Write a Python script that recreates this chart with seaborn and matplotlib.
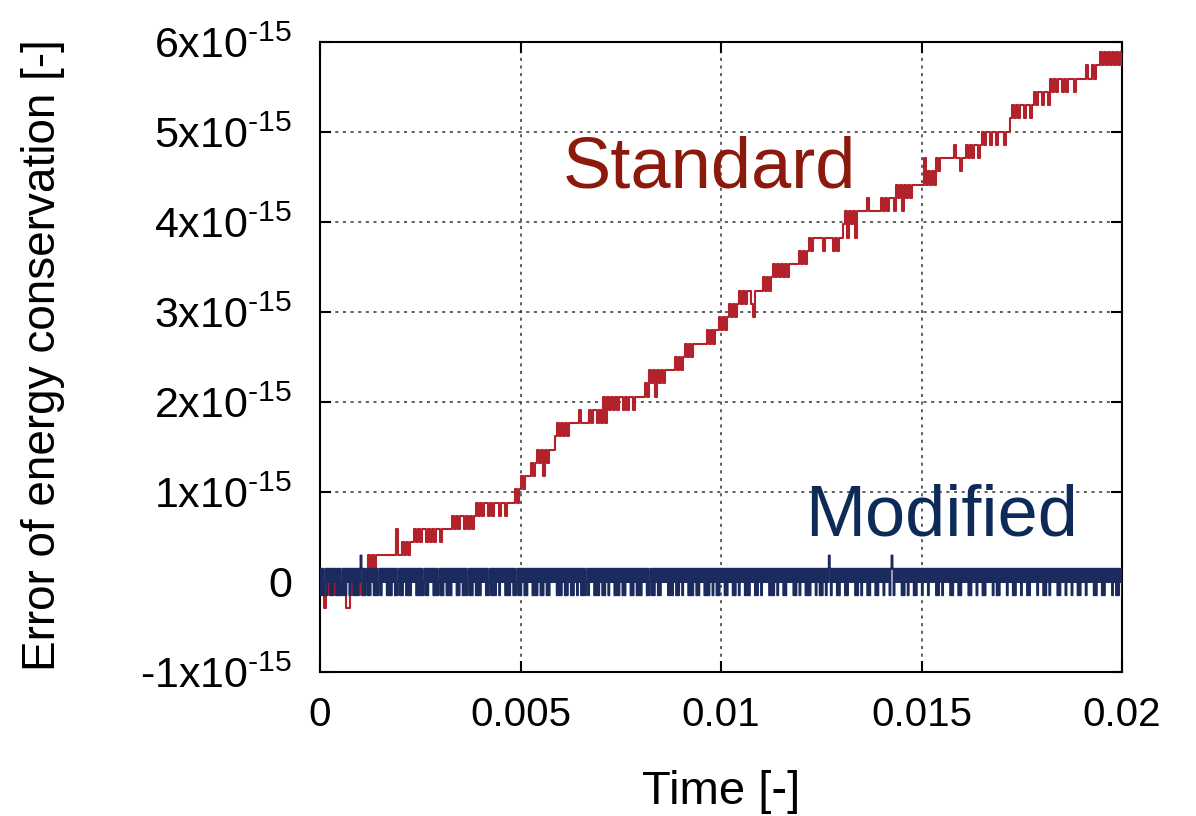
import numpy as np
import pandas as pd
import matplotlib
matplotlib.use("Agg")
import matplotlib.pyplot as plt
import seaborn as sns

# ---------------- data ----------------
T_START, T_END = 0.0, 0.02
ROUNDOFF_UNIT = 1.472e-16          # size of one round-off step in the error

# Standard scheme: error level (in round-off units) sampled every 5e-5 s
STANDARD_LEVELS = [
    0, 0, -2, -1, 0, -1, 0, -1, 0, -1,
    0, -1, 0, -2, -2, -1, 0, -1, 0, -1,
    0, -1, 0, 1, 2, 1, 2, 1, 2, 2,
    2, 2, 2, 2, 2, 2, 2, 2, 4, 2,
    2, 3, 2, 3, 2, 3, 3, 4, 3, 4,
    3, 4, 4, 3, 4, 3, 4, 3, 4, 4,
    3, 4, 4, 4, 4, 4, 5, 4, 5, 4,
    5, 5, 4, 5, 4, 5, 4, 5, 6, 5,
    6, 5, 6, 6, 5, 6, 5, 6, 6, 5,
    6, 6, 5, 6, 6, 6, 6, 7, 6, 7,
    8, 7, 8, 8, 8, 9, 8, 9, 10, 9,
    10, 8, 10, 9, 10, 10, 10, 11, 12, 11,
    12, 11, 12, 11, 12, 12, 12, 12, 12, 13,
    12, 12, 12, 12, 13, 12, 13, 13, 12, 13,
    12, 14, 12, 14, 13, 14, 13, 14, 13, 14,
    14, 13, 14, 13, 14, 14, 13, 14, 14, 14,
    14, 14, 15, 14, 16, 15, 16, 14, 16, 15,
    16, 15, 16, 16, 16, 16, 16, 17, 16, 17,
    16, 17, 18, 17, 18, 17, 18, 18, 18, 18,
    18, 18, 18, 19, 18, 19, 18, 19, 19, 20,
    19, 20, 19, 20, 21, 20, 21, 20, 21, 22,
    21, 22, 21, 22, 22, 21, 20, 22, 22, 22,
    22, 23, 22, 23, 22, 23, 24, 23, 24, 23,
    24, 23, 24, 23, 24, 24, 24, 24, 24, 25,
    24, 25, 24, 25, 26, 25, 26, 26, 26, 26,
    26, 25, 26, 26, 26, 26, 25, 26, 25, 26,
    26, 27, 28, 26, 28, 27, 28, 26, 28, 28,
    28, 28, 28, 29, 28, 28, 28, 28, 28, 28,
    29, 28, 29, 28, 29, 29, 28, 30, 29, 30,
    28, 30, 29, 30, 29, 30, 30, 30, 30, 30,
    30, 32, 30, 31, 30, 31, 30, 32, 31, 32,
    32, 32, 32, 32, 32, 32, 33, 32, 32, 31,
    32, 32, 33, 32, 33, 32, 33, 33, 32, 33,
    34, 33, 34, 34, 33, 34, 34, 33, 34, 34,
    34, 33, 34, 34, 35, 36, 35, 36, 35, 36,
    36, 35, 36, 36, 35, 36, 37, 36, 37, 37,
    36, 37, 37, 36, 38, 37, 38, 37, 38, 38,
    37, 38, 37, 38, 38, 38, 37, 38, 38, 38,
    38, 38, 39, 38, 38, 39, 38, 39, 39, 40,
    39, 40, 39, 40, 39, 40, 39, 40, 39, 40,
    39,
]

# Modified scheme: error level sampled every 2.5e-5 s
# '+' = +1 unit, '0' = 0, '-' = -1 unit, '^' = +2 units
MODIFIED_TRACE = (
    "+-+-0+-+0+-+-+0+-+-+-0+-+-+0+-+0+-+-+-+0^+-+-0+-+-"
    "+0+-+-+-0+-+0+0+-+-+-+0+-+-0+-+-+0+-+-+-+0+0+-+-+-"
    "+-0+-+-+0+0+-+-+-0+-+-+0+-+-+-+0+0+-+-+0+-+-+-0+-+"
    "-+0+-+-+-+0+0+-+-0+-+-+-+0+-+0+0+-+-+-+0+-+-0+-+-+"
    "0+-+-+0+0+-+-+-+0+-+-+0+-+-+0+0+0+-+-+-+0+-+-+0+-+"
    "-+0+-+0+-+-+-0+-+0+0+-+-+-+0+-+-+0+-+0+0+-+-+-+0+-"
    "+-+0+0+-+-+0+-+-+-+0+0+-+-0+-+-+0+-+-+0+0+0+-+-+-+"
    "0+-+-+0+-+0+0+-+-+-+0+-+-+0+0+-+-+-+0+-+0+-+-+0+0+"
    "-+-+0+0+-+-+0+-+0+0+-+-+-+0+0+-+-+0+-+0+0+0+-+-+-"
    "+0+-+0+0+-+-+0+0+0+-+-+0+-+0+0+-+-+-+0+0+-+0+-+-+"
    "0+-+0^+-+0+0+-+-+0+0+-+-+0+0+0+-+-+0+-+0+0+-+-+0+"
    "0+-+-+0+0+-+0+0+-+^+-+0+0+0+-+-+0+-+0+0+-+-+0+0+-"
    "+0+0+-+0+0+0+-+-+0+-+0+0+0+-+-+0+0+-+-+0+0+0+-+-+"
    "0+0+-+0+0+-+-+0+0+0+-+0+-+-+0+0+0+-+0+0+-+-+0+0+-"
    "+0+0+-+-+0+0+0+-+0+0+-+-+0+-+0+0+0+-+-+0+0+-+0+0+"
    "-+0+0+-+-+0+0+-+0+0+0+-+-+0+0+-+-+0+0+0+-+0+-+-+0+-"
)
MODIFIED_CODE = {"-": -1, "0": 0, "+": 1, "^": 2}

X_TICKS = [0.0, 0.005, 0.01, 0.015, 0.02]
X_TICK_LABELS = ["0", "0.005", "0.01", "0.015", "0.02"]
Y_TICKS = [-1e-15, 0.0, 1e-15, 2e-15, 3e-15, 4e-15, 5e-15, 6e-15]
Y_TICK_LABELS = [r"-1x10$^{\text{-15}}$", "0",
                 r"1x10$^{\text{-15}}$", r"2x10$^{\text{-15}}$",
                 r"3x10$^{\text{-15}}$", r"4x10$^{\text{-15}}$",
                 r"5x10$^{\text{-15}}$", r"6x10$^{\text{-15}}$"]

SERIES_NAMES = ["Standard", "Modified"]

# ---------------- build tables ----------------
std_t = np.linspace(T_START, T_END, len(STANDARD_LEVELS))
std = pd.DataFrame({"time": std_t,
                    "error": np.array(STANDARD_LEVELS) * ROUNDOFF_UNIT})
mod_levels = [MODIFIED_CODE[c] for c in MODIFIED_TRACE]
mod_t = np.linspace(T_START, T_END, len(mod_levels))
mod = pd.DataFrame({"time": mod_t,
                    "error": np.array(mod_levels) * ROUNDOFF_UNIT})

# ---------------- style ----------------
sns.set_style("ticks")
plt.rcParams["font.family"] = ["Liberation Sans", "DejaVu Sans"]
plt.rcParams["mathtext.fontset"] = "custom"
plt.rcParams["mathtext.rm"] = "Liberation Sans"
plt.rcParams["mathtext.it"] = "Liberation Sans"
plt.rcParams["mathtext.bf"] = "Liberation Sans"
plt.rcParams["mathtext.default"] = "regular"
plt.rcParams["text.color"] = "black"
plt.rcParams["axes.labelcolor"] = "black"
plt.rcParams["xtick.color"] = "black"
plt.rcParams["ytick.color"] = "black"

RED_LINE = "#b3222a"
BLUE_LINE = "#1b2b5e"
RED_TEXT = "#8b1a0c"
BLUE_TEXT = "#0e2a58"

fig = plt.figure(figsize=(11.96, 8.16), dpi=100)
ax = fig.add_axes([0.2676, 0.1765, 0.6706, 0.772])

sns.lineplot(data=std, x="time", y="error", ax=ax, color=RED_LINE,
             linewidth=1.5, drawstyle="steps-post", estimator=None,
             sort=False, zorder=3)
sns.lineplot(data=mod, x="time", y="error", ax=ax, color=BLUE_LINE,
             linewidth=1.4, drawstyle="steps-post", estimator=None,
             sort=False, zorder=4)

ax.set_xlim(T_START, T_END)
ax.set_ylim(-1e-15, 6e-15)

ax.set_xticks(X_TICKS)
ax.set_xticklabels(X_TICK_LABELS)
ax.set_yticks(Y_TICKS)
ax.set_yticklabels(Y_TICK_LABELS)

ax.grid(True, color="#333333", linestyle=(0, (2, 3)), linewidth=1.1)
ax.set_axisbelow(True)

for s in ax.spines.values():
    s.set_linewidth(1.5)
    s.set_color("black")
    s.set_visible(True)

ax.tick_params(axis="both", which="major", direction="in", length=8,
               width=1.5, top=True, right=True, color="black",
               labelcolor="black")
ax.tick_params(axis="y", labelsize=31, pad=20)
ax.tick_params(axis="x", labelsize=29, pad=17)

ax.set_xlabel("Time [-]", fontsize=34, color="black")
ax.set_ylabel("Error of energy conservation [-]", fontsize=33, color="black")
ax.xaxis.set_label_coords(0.5, -0.19)
ax.xaxis.label.set_va("center")
ax.yaxis.set_label_coords(-0.345, 0.503)
ax.yaxis.label.set_va("center")

ax.text(0.00604, 4.38e-15, SERIES_NAMES[0], fontsize=52, color=RED_TEXT,
        ha="left", va="baseline", zorder=5)
ax.text(0.01210, 0.52e-15, SERIES_NAMES[1], fontsize=52, color=BLUE_TEXT,
        ha="left", va="baseline", zorder=5)

fig.savefig("out.png", dpi=100)
